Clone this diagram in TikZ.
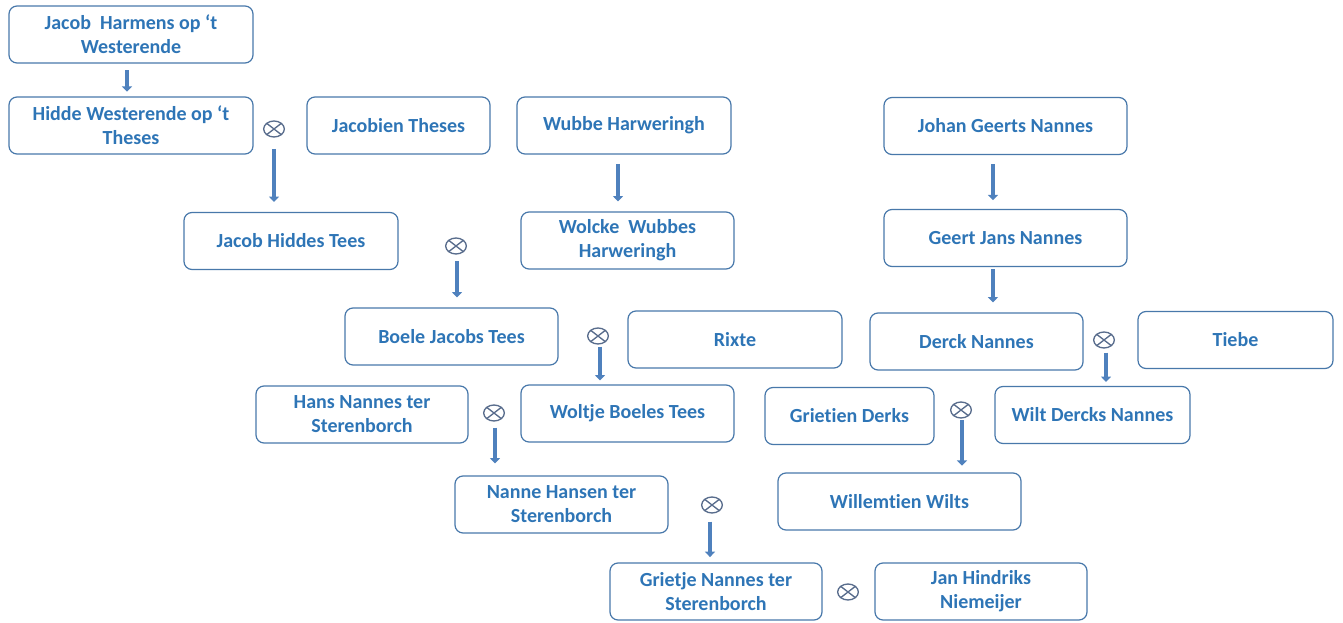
\documentclass[tikz,border=0pt]{standalone}
\usepackage{fontspec}
\setmainfont{Carlito}[Ligatures={NoCommon}]
\usetikzlibrary{arrows.meta,shapes.geometric}

\definecolor{namecol}{RGB}{46,117,182}
\definecolor{boxcol}{RGB}{72,120,170}
\definecolor{arrcol}{RGB}{79,129,189}
\definecolor{wedcol}{RGB}{88,108,140}

\tikzset{
	person/.style={draw=boxcol, line width=0.9pt, rounded corners=6pt, align=center,
		minimum height=42.75pt, inner sep=2pt, text=namecol,
		font=\fontsize{15}{18}\selectfont\bfseries},
	marry/.style={ellipse, draw=wedcol, line width=1pt, minimum width=15.5pt,
		minimum height=12pt, inner sep=0pt,
		path picture={\draw[wedcol, line width=1pt]
			(path picture bounding box.north west) -- (path picture bounding box.south east)
			(path picture bounding box.south west) -- (path picture bounding box.north east);}},
	descent/.style={draw=arrcol, line width=3pt, -{Triangle[width=7.5pt,length=4pt]}}
}

\begin{document}
\begin{tikzpicture}[x=0.75pt, y=-0.75pt]
	\useasboundingbox (0,0) rectangle (1343,623);
	% people
	\node [person, minimum width=183pt] (jacob) at (131,34.5) {Jacob~ Harmens op ‘t\\Westerende};
	\node [person, minimum width=183pt] (hidde) at (131,125.5) {Hidde Westerende op ‘t\\Theses};
	\node [person, minimum width=137.25pt] (jacobien) at (398.5,125.5) {Jacobien Theses};
	\node [person, minimum width=160.5pt] (wubbe) at (624,125.5) {Wubbe Harweringh};
	\node [person, minimum width=182.25pt] (johan) at (1005.5,126) {Johan Geerts Nannes};
	\node [person, minimum width=160.5pt] (jacobh) at (291,241) {Jacob Hiddes Tees};
	\node [person, minimum width=159.75pt] (wolcke) at (627.5,240.5) {Wolcke~ Wubbes\\Harweringh};
	\node [person, minimum width=182.25pt] (geert) at (1005.5,238) {Geert Jans Nannes};
	\node [person, minimum width=159.75pt] (boele) at (451.5,336.5) {Boele Jacobs Tees};
	\node [person, minimum width=160.5pt] (rixte) at (735,339.5) {Rixte};
	\node [person, minimum width=159.75pt] (derck) at (976.5,341.5) {Derck Nannes};
	\node [person, minimum width=146.25pt] (tiebe) at (1235.5,340) {Tiebe};
	\node [person, minimum width=159pt] (hans) at (362,414.5) {Hans Nannes ter\\Sterenborch};
	\node [person, minimum width=159.75pt] (woltje) at (627.5,413.5) {Woltje Boeles Tees};
	\node [person, minimum width=126.75pt] (grietien) at (849.5,416) {Grietien Derks};
	\node [person, minimum width=146.25pt] (wilt) at (1092.5,415) {Wilt Dercks Nannes};
	\node [person, minimum width=159.75pt] (nanne) at (561.5,504.5) {Nanne Hansen ter\\Sterenborch};
	\node [person, minimum width=182.25pt] (willemtien) at (899.5,501.5) {Willemtien Wilts};
	\node [person, minimum width=159pt] (grietje) at (716,591.5) {Grietje Nannes ter\\Sterenborch};
	\node [person, minimum width=159pt] (jan) at (981,591.5) {Jan Hindriks\\Niemeijer};
	% marriages
	\node [marry] (m1) at (274,129) {};
	\node [marry] (m2) at (456,246) {};
	\node [marry] (m3) at (598,336) {};
	\node [marry] (m4) at (494,413) {};
	\node [marry] (m5) at (1104,340) {};
	\node [marry] (m6) at (961,410) {};
	\node [marry] (m7) at (712,505) {};
	\node [marry] (m8) at (848,592) {};
	% children
	\draw [descent, shorten <=5pt, shorten >=3.5pt] ([xshift=-3pt]jacob.south) -- ([xshift=-3pt]hidde.north);
	\draw [descent, shorten <=8.5pt, shorten >=7.5pt] (m1.south) -- (m1.south |- jacobh.north);
	\draw [descent, shorten <=7pt, shorten >=7.5pt] ([xshift=-4.5pt]wubbe.south) -- ([xshift=-4.5pt]wubbe.south |- wolcke.north);
	\draw [descent, shorten <=7pt, shorten >=6.5pt] ([xshift=-9.4pt]johan.south) -- ([xshift=-9.4pt]johan.south |- geert.north);
	\draw [descent, shorten <=1.5pt, shorten >=7.5pt] ([xshift=-9.4pt]geert.south) -- ([xshift=-9.4pt]geert.south |- derck.north);
	\draw [descent, shorten <=5pt, shorten >=7.5pt] ([xshift=0.75pt]m2.south) -- ([xshift=0.75pt]m2.south |- boele.north);
	\draw [descent, shorten <=1.5pt, shorten >=3pt] ([xshift=1.5pt]m3.south) -- ([xshift=1.5pt]m3.south |- woltje.north);
	\draw [descent, shorten <=4.5pt, shorten >=9pt] ([xshift=0.75pt]m4.south) -- ([xshift=0.75pt]m4.south |- nanne.north);
	\draw [descent, shorten <=3pt, shorten >=3pt] ([xshift=1.5pt]m5.south) -- ([xshift=1.5pt]m5.south |- wilt.north);
	\draw [descent, shorten <=1pt, shorten >=5pt] ([xshift=0.75pt]m6.south) -- ([xshift=0.75pt]m6.south |- willemtien.north);
	\draw [descent, shorten <=6pt, shorten >=4pt] ([xshift=-1.5pt]m7.south) -- ([xshift=-1.5pt]m7.south |- grietje.north);
\end{tikzpicture}
\end{document}
